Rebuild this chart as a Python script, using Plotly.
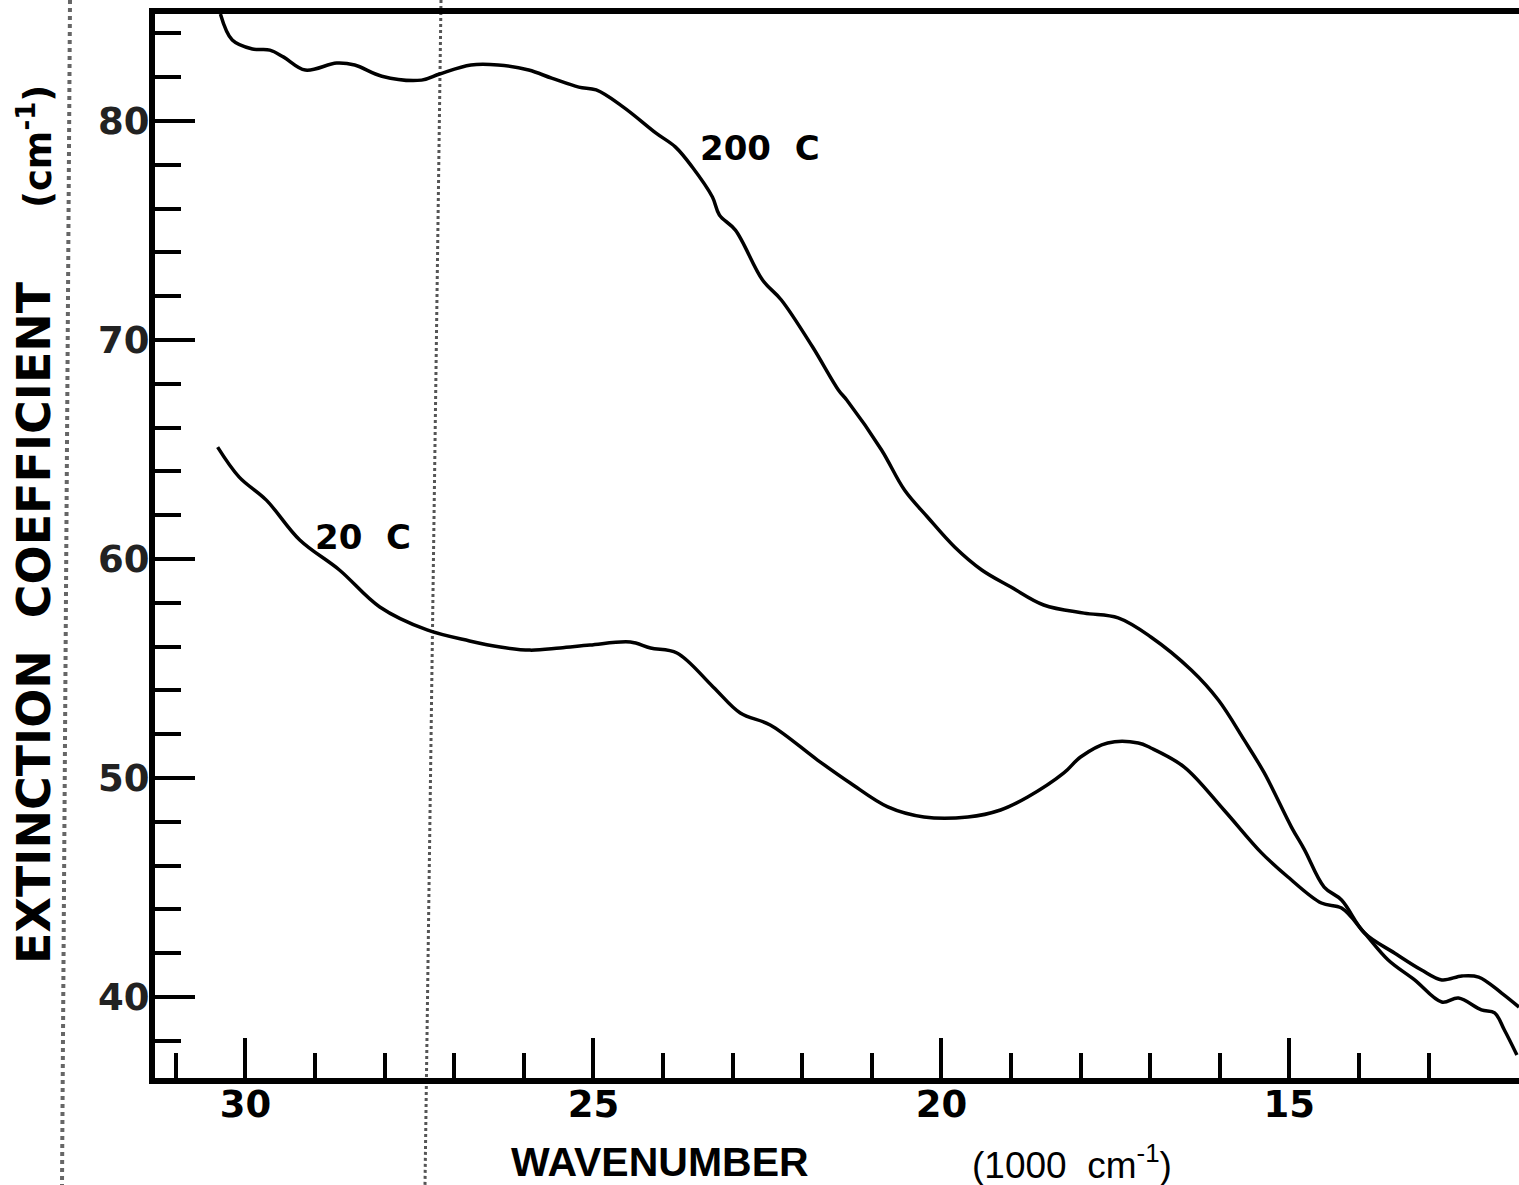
import plotly.graph_objects as go

# ---------------- data ----------------
wn_200 = [30.36, 30.19, 29.90, 29.65, 29.45, 29.14, 28.69, 28.43, 28.04, 27.47,
          27.21, 26.76, 26.37, 25.93, 25.60, 25.21, 24.96, 24.57, 24.10, 23.82,
          23.58, 23.29, 23.19, 22.96, 22.57, 22.30, 21.85, 21.48, 21.36, 20.86,
          20.53, 20.20, 19.81, 19.42, 19.00, 18.53, 17.95, 17.46, 16.99, 16.41,
          16.02, 15.65, 15.36, 14.97, 14.78, 14.50, 14.25, 13.92, 13.49, 13.10,
          12.81, 12.52, 12.28, 11.95, 11.70]
ext_200 = [84.89, 83.70, 83.29, 83.24, 82.92, 82.33, 82.65, 82.56, 82.05, 81.87,
           82.15, 82.56, 82.56, 82.33, 81.96, 81.55, 81.42, 80.64, 79.45, 78.81,
           77.90, 76.53, 75.71, 75.02, 72.74, 71.83, 69.68, 67.72, 67.26, 64.98,
           63.15, 61.92, 60.55, 59.50, 58.72, 57.90, 57.53, 57.31, 56.44, 54.93,
           53.56, 51.74, 50.23, 47.76, 46.71, 45.02, 44.43, 42.92, 42.01, 41.23,
           40.78, 40.96, 40.91, 40.18, 39.54]

wn_20 = [30.40, 30.09, 29.70, 29.22, 28.65, 28.07, 27.39, 26.78, 26.34, 25.91,
         25.48, 25.05, 24.47, 24.18, 23.80, 23.28, 22.89, 22.46, 21.78, 21.31,
         20.77, 20.25, 19.62, 19.15, 18.76, 18.24, 18.00, 17.61, 17.17, 16.99,
         16.51, 15.94, 15.40, 15.02, 14.54, 14.25, 13.92, 13.58, 13.20, 12.81,
         12.57, 12.24, 12.05, 11.91, 11.73]
ext_20 = [65.11, 63.74, 62.69, 60.87, 59.50, 57.81, 56.76, 56.26, 55.98, 55.84,
          55.94, 56.07, 56.21, 55.94, 55.71, 54.16, 52.97, 52.42, 50.82, 49.77,
          48.68, 48.22, 48.22, 48.54, 49.13, 50.23, 50.96, 51.60, 51.60, 51.37,
          50.50, 48.54, 46.58, 45.48, 44.29, 44.06, 42.92, 41.69, 40.78, 39.77,
          39.95, 39.41, 39.27, 38.49, 37.35]

x_major_ticks = [30, 25, 20, 15]
x_minor_ticks = list(range(13, 32))
y_major_ticks = [40, 50, 60, 70, 80]
y_minor_ticks = list(range(38, 86, 2))

series_labels = ["200\u00a0\u00a0C", "20\u00a0\u00a0C"]
label_pos_x = [22.61, 28.31]
label_pos_y = [78.77, 61.0]

# ---------------- figure ----------------
W, H = 1519, 1185
L, R, T, B = 155, 1519, 14, 1078


def px(xp):
    return (xp - L) / (R - L)


def py(yp):
    return (B - yp) / (B - T)


fig = go.Figure()
line_style = dict(color="black", width=3.5)
fig.add_trace(go.Scatter(x=wn_200, y=ext_200, mode="lines", line=line_style,
                         line_shape="spline", showlegend=False))
fig.add_trace(go.Scatter(x=wn_20, y=ext_20, mode="lines", line=line_style,
                         line_shape="spline", showlegend=False))

tick_font = dict(family="DejaVu Sans", size=37, color="black", weight="bold")

fig.update_xaxes(
    range=[31.30, 11.70], autorange=False,
    showline=True, linewidth=6, linecolor="black", mirror=True,
    showgrid=False, zeroline=False,
    tickmode="array", tickvals=x_major_ticks,
    ticktext=[str(v) for v in x_major_ticks],
    ticks="inside", ticklen=40, tickwidth=4, tickcolor="black",
    tickfont=tick_font, ticklabelstandoff=-11,
    minor=dict(tickmode="array", tickvals=x_minor_ticks, ticks="inside",
               ticklen=25, tickwidth=4, tickcolor="black", showgrid=False),
)
fig.update_yaxes(
    range=[36.30, 84.89], autorange=False,
    showline=True, linewidth=6, linecolor="black", mirror=False,
    showgrid=False, zeroline=False,
    tickmode="array", tickvals=y_major_ticks,
    ticktext=[str(v) for v in y_major_ticks],
    ticks="inside", ticklen=40, tickwidth=4, tickcolor="black",
    tickfont=dict(family="DejaVu Sans", size=37, color="#222", weight="bold"),
    ticklabelstandoff=-8,
    minor=dict(tickmode="array", tickvals=y_minor_ticks, ticks="inside",
               ticklen=26, tickwidth=4, tickcolor="black", showgrid=False),
)

annotations = []
for txt, xv, yv in zip(series_labels, label_pos_x, label_pos_y):
    annotations.append(dict(x=xv, y=yv, xref="x", yref="y", text=txt,
                            showarrow=False, xanchor="center", yanchor="middle",
                            font=dict(family="DejaVu Sans", size=34,
                                      color="black", weight="bold")))

# axis titles
annotations.append(dict(x=px(660), y=py(1162), xref="paper", yref="paper",
                        text="WAVENUMBER", showarrow=False,
                        xanchor="center", yanchor="middle",
                        font=dict(family="Liberation Sans", size=41,
                                  color="black", weight="bold")))
annotations.append(dict(x=px(1072), y=py(1162), xref="paper", yref="paper",
                        text="(1000\u00a0\u00a0cm<sup>-1</sup>)", showarrow=False,
                        xanchor="center", yanchor="middle",
                        font=dict(family="Liberation Sans", size=37,
                                  color="black")))
annotations.append(dict(x=px(34), y=py(623), xref="paper", yref="paper",
                        text="EXTINCTION\u00a0\u00a0COEFFICIENT", textangle=-90,
                        showarrow=False, xanchor="center", yanchor="middle",
                        font=dict(family="DejaVu Sans", size=46,
                                  color="black", weight="bold")))
annotations.append(dict(x=px(35), y=py(147), xref="paper", yref="paper",
                        text="(cm<sup>-1</sup>)", textangle=-90,
                        showarrow=False, xanchor="center", yanchor="middle",
                        font=dict(family="DejaVu Sans", size=37,
                                  color="black", weight="bold")))

# scan artefact: stippled vertical bands
shapes = [
    dict(type="line", xref="paper", yref="paper", x0=px(441), x1=px(425),
         y0=py(0), y1=py(H), line=dict(color="#555", width=3, dash="dot"),
         layer="below"),
    dict(type="line", xref="paper", yref="paper", x0=px(70), x1=px(62),
         y0=py(0), y1=py(H), line=dict(color="#666", width=4, dash="dot"),
         layer="below"),
]

fig.update_layout(
    width=W, height=H,
    margin=dict(l=L, r=W - R, t=T, b=H - B, pad=0),
    paper_bgcolor="white", plot_bgcolor="white",
    annotations=annotations, shapes=shapes,
    showlegend=False,
)

fig.write_html("out.html")
